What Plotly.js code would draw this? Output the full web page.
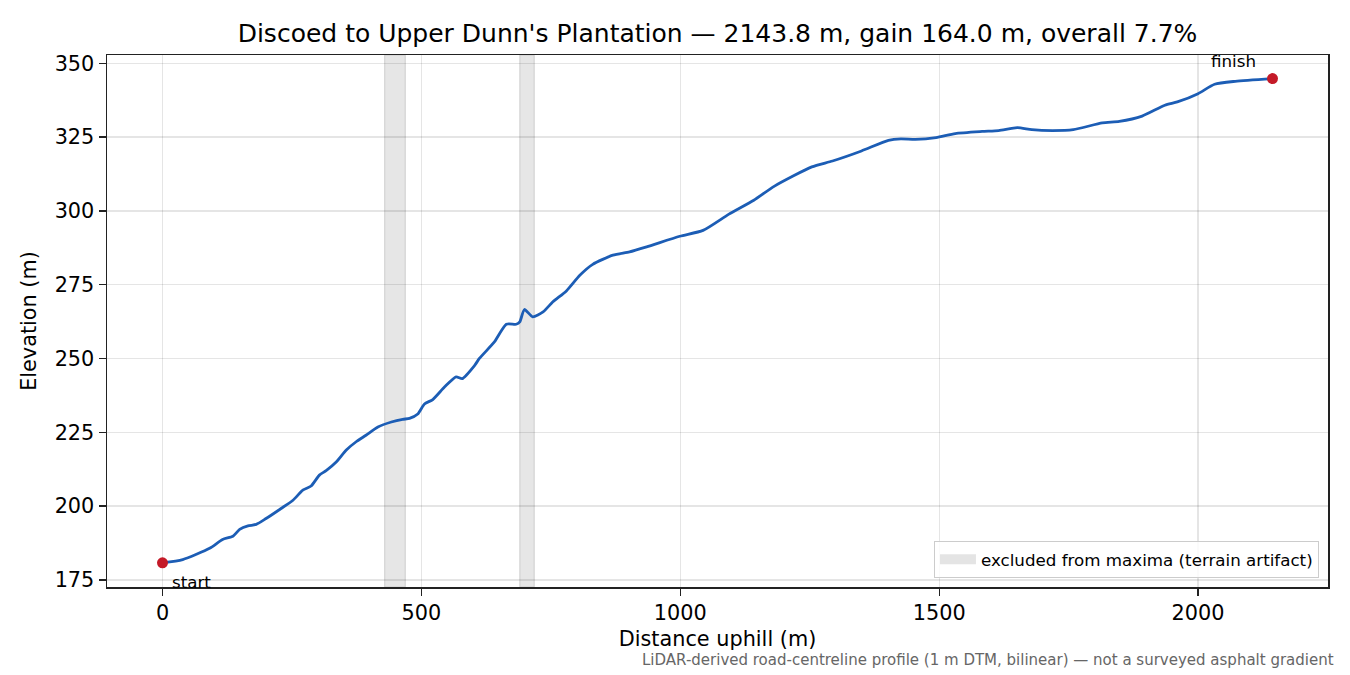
<!DOCTYPE html>
<html>
<head>
<meta charset="utf-8">
<script src="https://cdn.plot.ly/plotly-3.0.1.min.js"></script>
<style>
  html, body { margin: 0; padding: 0; background: #fff; }
  #plot { width: 1350px; height: 675px; }
</style>
</head>
<body>
<div id="plot"></div>
<script>
// profile, distance uphill (m) vs elevation (m)
let distance = [0, 39, 91, 116, 136, 149, 165, 181, 200, 229, 252, 271, 287, 303, 316, 336,
  355, 374, 393, 416, 442, 464, 477, 493, 506, 522, 545, 567, 579, 603, 612, 641, 664,
  683, 690, 699, 715, 735, 754, 780, 806, 831, 870, 902, 935, 999, 1044, 1094, 1142,
  1182, 1254, 1294, 1350, 1402, 1426, 1454, 1494, 1531, 1583, 1615, 1651, 1679, 1719,
  1759, 1815, 1848, 1892, 1936, 1960, 2000, 2032, 2072, 2143.8];
let elevation = [180.8, 181.9, 185.7, 188.7, 189.8, 192.1, 193.3, 193.8, 195.8, 199.2, 202.0,
  205.4, 206.8, 210.5, 212.0, 215.0, 219.0, 221.8, 224.0, 226.8, 228.5, 229.4, 229.7,
  231.2, 234.6, 236.1, 240.4, 243.8, 243.2, 247.7, 250.0, 255.6, 261.6, 261.6, 262.4,
  266.6, 264.1, 265.8, 269.2, 272.9, 278.2, 281.9, 285.0, 286.1, 287.8, 291.4, 293.4,
  298.9, 303.6, 308.4, 314.9, 316.9, 320.3, 323.9, 324.4, 324.2, 324.8, 326.2, 326.9,
  327.2, 328.2, 327.5, 327.2, 327.5, 329.8, 330.3, 332.1, 335.8, 336.9, 339.7, 342.9,
  343.9, 344.8];

// stretches left out of the maxima
let bandStart = [429, 690];
let bandEnd = [469, 718];

let xTicks = [0, 500, 1000, 1500, 2000];
let yTicks = [175, 200, 225, 250, 275, 300, 325, 350];

let font = "DejaVu Sans";
let last = distance.length - 1;
let bandFill = 'rgba(128,128,128,0.2)';
let bandEdge = 'rgba(128,128,128,0.25)';

let profile = {
  x: distance,
  y: elevation,
  type: 'scatter',
  mode: 'lines',
  line: { color: '#1c5db5', width: 2.8, shape: 'spline', smoothing: 0.6 },
  showlegend: false,
  hoverinfo: 'skip'
};

let ends = {
  x: [distance[0], distance[last]],
  y: [elevation[0], elevation[last]],
  type: 'scatter',
  mode: 'markers',
  marker: { color: '#c41a28', size: 11 },
  showlegend: false,
  hoverinfo: 'skip'
};

// legend entry only (nothing drawn in the plot), the bands themselves are shapes
let bandKey = {
  x: [null],
  y: [null],
  type: 'scatter',
  mode: 'lines',
  line: { color: '#e4e4e4', width: 12 },
  name: 'excluded from maxima (terrain artifact)',
  showlegend: true,
  hoverinfo: 'skip'
};

let shapes = [];
for (let i = 0; i < bandStart.length; i++) {
  shapes.push({
    type: 'rect',
    xref: 'x', yref: 'paper',
    x0: bandStart[i], x1: bandEnd[i], y0: 0, y1: 1,
    fillcolor: bandFill,
    line: { color: bandEdge, width: 1.2 },
    layer: 'between'
  });
}

let layout = {
  width: 1350,
  height: 675,
  margin: { l: 107, r: 22, t: 55, b: 88 },
  paper_bgcolor: '#ffffff',
  plot_bgcolor: '#ffffff',
  font: { family: font, size: 20.8, color: '#000000' },
  title: {
    text: "Discoed to Upper Dunn's Plantation — 2143.8 m, gain 164.0 m, overall 7.7%",
    font: { family: font, size: 25, color: '#000000' },
    x: 0.5, xref: 'paper', xanchor: 'center',
    y: 1 - 33 / 675, yref: 'container', yanchor: 'middle'
  },
  xaxis: {
    range: [-107.2, 2251],
    tickvals: xTicks,
    ticktext: xTicks.map(String),
    ticks: 'outside', ticklen: 7, tickwidth: 1.3, tickcolor: '#222',
    showline: true, linecolor: '#222', linewidth: 1.5, mirror: true,
    showgrid: true, gridcolor: 'rgba(0,0,0,0.1)', gridwidth: 1.3,
    zeroline: false,
    tickfont: { family: font, size: 20.8 },
    title: { text: 'Distance uphill (m)', font: { family: font, size: 20.8 }, standoff: 7 }
  },
  yaxis: {
    range: [172.6, 352.8],
    tickvals: yTicks,
    ticktext: yTicks.map(String),
    ticks: 'outside', ticklen: 7, tickwidth: 1.3, tickcolor: '#222',
    showline: true, linecolor: '#222', linewidth: 1.5, mirror: true,
    showgrid: true, gridcolor: 'rgba(0,0,0,0.1)', gridwidth: 1.3,
    zeroline: false,
    tickfont: { family: font, size: 20.8 },
    title: { text: 'Elevation (m)', font: { family: font, size: 20.8 }, standoff: 12 }
  },
  shapes: shapes,
  legend: {
    x: 0.9926, xanchor: 'right',
    y: 0.017, yanchor: 'bottom',
    bgcolor: 'rgba(255,255,255,0.85)',
    bordercolor: '#cccccc', borderwidth: 1,
    font: { family: font, size: 16.7, color: '#000' },
    itemwidth: 36
  },
  annotations: [
    {
      x: distance[0], y: elevation[0], xref: 'x', yref: 'y',
      text: 'start', showarrow: false,
      xanchor: 'left', yanchor: 'middle', xshift: 7, yshift: -19,
      font: { family: font, size: 16.7, color: '#000' }
    },
    {
      x: distance[last], y: elevation[last], xref: 'x', yref: 'y',
      text: 'finish', showarrow: false,
      xanchor: 'center', yanchor: 'middle', xshift: -39, yshift: 18,
      font: { family: font, size: 16.7, color: '#000' }
    },
    {
      x: 1.0066, y: -0.137, xref: 'paper', yref: 'paper',
      text: 'LiDAR-derived road-centreline profile (1 m DTM, bilinear) — not a surveyed asphalt gradient',
      showarrow: false, xanchor: 'right', yanchor: 'middle',
      font: { family: font, size: 15, color: '#666666' }
    }
  ]
};

Plotly.newPlot('plot', [profile, ends, bandKey], layout, { staticPlot: true, displayModeBar: false });
</script>
</body>
</html>
